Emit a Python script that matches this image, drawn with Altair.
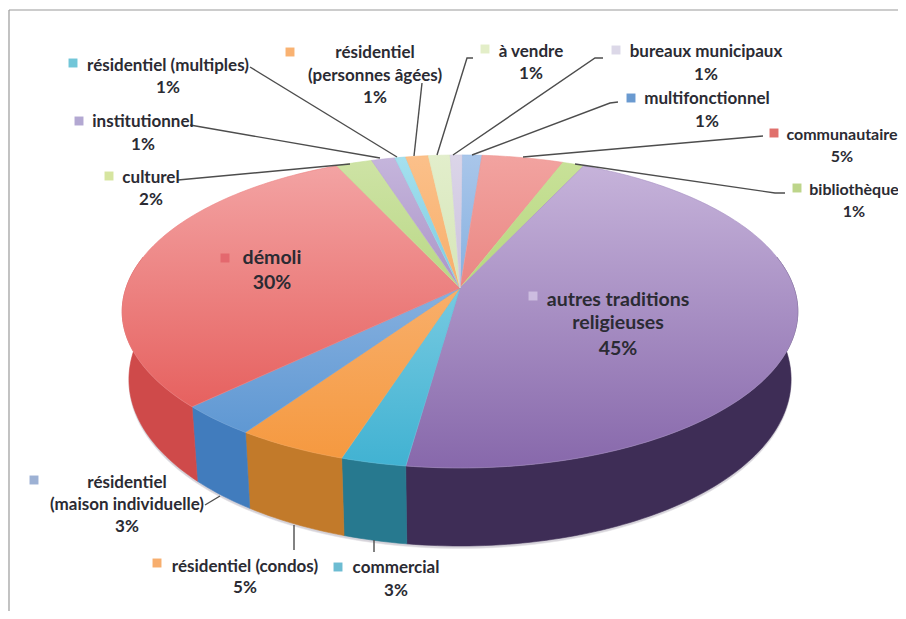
import math
import altair as alt
import pandas as pd

# ---- values (clockwise from 12 o'clock)
categories = ["multifonctionnel", "communautaire", "bibliothèque", "autres traditions religieuses",
              "commercial", "résidentiel (condos)", "résidentiel (maison individuelle)", "démoli",
              "culturel", "institutionnel", "résidentiel (multiples)", "résidentiel (personnes âgées)",
              "à vendre", "bureaux municipaux"]
shares = [1.1, 4.5, 1.2, 45.3, 2.7, 4.6, 3.25, 30.35, 2.0, 1.3, 0.6, 1.25, 1.2, 0.65]
printed = ["1%", "5%", "1%", "45%", "3%", "5%", "3%", "30%", "2%", "1%", "1%", "1%", "1%", "1%"]

# ---- styles: colour of the top face at its far and near edge, colour of the side
top_far = ["#a9c6ea", "#f2a3a0", "#c9e29a", "#c8b6dc", "#9fdcec", "#fbc08c", "#a9c6ea", "#f4a6a6",
           "#cfe3a6", "#c6b6dc", "#a6e0ee", "#fbc08a", "#e2eecb", "#dbd5e8"]
top_near = ["#5a95d2", "#e0605c", "#9cc95a", "#8768ab", "#40b2d2", "#f5983e", "#5692d0", "#e2504e",
            "#9cc95a", "#8768ab", "#40b2d2", "#f5983e", "#c6dca0", "#b8a8d0"]
side = ["#3f78b8", "#c94a48", "#7d9c40", "#3e2d56", "#27798f", "#c27a2a", "#417cbd", "#cf4a4a",
        "#7d9c40", "#3e2d56", "#27798f", "#c27a2a", "#94a878", "#5f5480"]

# ---- layout of the tilted disc
APEX_X, APEX_Y = 460, 288
RX, RY, PERSP = 334, 153, 0.15
START = 0.11


def top_point(theta):
    u, v = math.sin(theta), math.cos(theta)
    w = 1 + PERSP * v
    return APEX_X + RX * u / w, APEX_Y - RY * v / w


def bottom_point(theta):
    x, y = top_point(theta)
    return APEX_X + (x - APEX_X) * 0.98, y + 66 - 12 * math.cos(theta)


def mix(a, b, t):
    ca = [int(a[i:i + 2], 16) for i in (1, 3, 5)]
    cb = [int(b[i:i + 2], 16) for i in (1, 3, 5)]
    return "#" + "".join(f"{round(p + (q - p) * t):02x}" for p, q in zip(ca, cb))


X = alt.X("x:Q", scale=alt.Scale(domain=[8, 898], nice=False, zero=False), axis=None)
Y = alt.Y("y:Q", scale=alt.Scale(domain=[611, 8], nice=False, zero=False), axis=None)


def polygon(points, fill, stroke):
    df = pd.DataFrame([{"x": p[0], "y": p[1], "i": i} for i, p in enumerate(points + points[:1])])
    return alt.Chart(df).mark_line(fill=fill, stroke=stroke, strokeWidth=0.6, interpolate="linear").encode(
        x=X, y=Y, order=alt.Order("i:Q"))


def gradient(ys, far, near):
    span = lambda y: max(0, min(1, (y - 155) / (468 - 155)))
    c0, c1 = mix(far, near, span(min(ys))), mix(far, near, span(max(ys)))
    return alt.LinearGradient(gradient="linear", x1=0, y1=0, x2=0, y2=1,
                              stops=[alt.GradientStop(color=c0, offset=0), alt.GradientStop(color=c1, offset=1)]), mix(c0, c1, 0.5)


layers = []

# frame
frame = pd.DataFrame({"x": [9, 9], "y": [10, 10], "x2": [898, 9], "y2": [10, 611]})
layers.append(alt.Chart(frame).mark_rule(color="#9a9a9a", strokeWidth=1.2).encode(x=X, y=Y, x2="x2:Q", y2="y2:Q"))

# soft shadow under the disc
rim = [math.radians(85 + k * 2) for k in range(96)]
layers.append(polygon([(x, y + 2.5) for x, y in (bottom_point(t) for t in rim)], "#d6d3da", "#e4e2e6"))

# slices
bounds = [START]
for s in shares:
    bounds.append(bounds[-1] + s)
angles = [b / 100 * 2 * math.pi for b in bounds]
lo, hi = math.radians(78), math.radians(282)

side_layers, top_layers = [], []
for i in range(len(shares)):
    a0, a1 = angles[i], angles[i + 1]
    steps = max(3, int((a1 - a0) / 0.02))
    thetas = [a0 + (a1 - a0) * k / steps for k in range(steps + 1)]
    pts = [top_point(t) for t in thetas]
    g, mid = gradient([p[1] for p in pts] + [APEX_Y], top_far[i], top_near[i])
    top_layers.append(polygon([(APEX_X, APEX_Y)] + pts, g, mid))
    b0, b1 = max(a0, lo), min(a1, hi)
    if b1 > b0:
        steps = max(3, int((b1 - b0) / 0.02))
        thetas = [b0 + (b1 - b0) * k / steps for k in range(steps + 1)]
        outer = [top_point(t) for t in thetas] + [bottom_point(t) for t in reversed(thetas)]
        side_layers.append(polygon(outer, side[i], side[i]))

layers += side_layers + top_layers

# leader lines
leader_paths = [
    [(250, 67), (397, 157)],
    [(422, 83), (414, 156)],
    [(473, 58), (467, 58), (437, 155)],
    [(603, 58), (595, 58), (453, 155)],
    [(618, 102), (610, 103), (472, 155)],
    [(763, 136), (523, 157)],
    [(785, 193), (775, 193), (575, 164)],
    [(190, 125), (380, 158)],
    [(178, 180), (350, 164)],
    [(205, 505), (220, 496)],
    [(294, 525), (294, 550)],
    [(374, 540), (374, 552)],
]
rows = []
for n, path in enumerate(leader_paths):
    for i, (x, y) in enumerate(path):
        rows.append({"x": x, "y": y, "n": n, "i": i})
layers.append(alt.Chart(pd.DataFrame(rows)).mark_line(color="#4d4d4d", strokeWidth=1.4).encode(
    x=X, y=Y, detail="n:N", order=alt.Order("i:Q")))

# legend keys in labels
key_xy = {0: (631, 98), 1: (774, 133), 2: (797, 188), 3: (533, 296), 4: (338, 567), 5: (157, 563), 6: (34, 480),
          7: (225, 258), 8: (109, 176), 9: (79, 121), 10: (73, 63), 11: (290, 52), 12: (485, 49), 13: (616, 50)}
key_color = ["#6a9ad0", "#e0706c", "#bdd58a", "#cdbde0", "#6cbcd2", "#f7ae6e", "#9db1d4", "#e4686e",
             "#d6e5a0", "#b3a8d2", "#72c6d8", "#f9b272", "#e3eec8", "#dcd8e8"]
keys = pd.DataFrame([{"x": key_xy[i][0], "y": key_xy[i][1], "c": key_color[i]} for i in range(len(categories))])
layers.append(alt.Chart(keys).mark_square(size=80, opacity=1, filled=True).encode(
    x=X, y=Y, color=alt.Color("c:N", scale=None)))

# label texts: (category index, lines, centre x, y of each line)
label_lines = [
    (0, ["multifonctionnel"], 707, [99, 122]),
    (4, ["commercial"], 396, [568, 591]),
    (5, ["résidentiel (condos)"], 245, [567, 588]),
    (6, ["résidentiel", "(maison individuelle)"], 127, [483, 505, 527]),
    (8, ["culturel"], 151, [178, 200]),
    (9, ["institutionnel"], 143, [122, 145]),
    (10, ["résidentiel (multiples)"], 168, [66, 88]),
    (11, ["résidentiel", "(personnes âgées)"], 375, [53, 76, 98]),
    (12, ["à vendre"], 531, [52, 74]),
    (13, ["bureaux municipaux"], 706, [52, 75]),
]
edge_lines = [
    (1, ["communautaire"], 842, [135, 157]),
    (2, ["bibliothèque"], 854, [190, 212]),
]
big_lines = [
    (3, ["autres traditions", "religieuses"], 618, [300, 323, 349]),
    (7, ["démoli"], 272, [258, 283]),
]


def text_layer(spec, size):
    out = []
    for idx, lines, cx, ys in spec:
        for t, y in zip(lines + [printed[idx]], ys):
            out.append({"x": cx, "y": y, "t": t})
    return alt.Chart(pd.DataFrame(out)).mark_text(
        font="Lato", fontWeight="bold", fontSize=size, color="#2b2b33", align="center", baseline="middle"
    ).encode(x=X, y=Y, text="t:N")


layers.append(text_layer(label_lines, 17))
layers.append(text_layer(edge_lines, 16))
layers.append(text_layer(big_lines, 19.5))

chart = alt.layer(*layers).properties(
    width=890, height=603, padding=0, autosize=alt.AutoSizeParams(type="none"), background="#ffffff"
).configure_view(stroke=None)

chart.save("out.html", embed_options={"renderer": "svg", "actions": False})
